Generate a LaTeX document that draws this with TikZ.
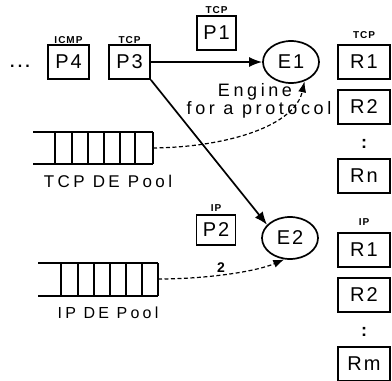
\documentclass[tikz,border=0pt]{standalone}
\usepackage{fontspec}
\setmainfont{Liberation Sans}
\newfontfamily\lblf{Liberation Sans}[LetterSpace=20]
\newfontfamily\boxf{Liberation Sans}[LetterSpace=10]
\newfontfamily\tagf{Liberation Sans}[LetterSpace=10]
\usetikzlibrary{arrows.meta,shapes.geometric}
\tikzset{
  pbox/.style={draw, line width=1.7pt, minimum width=41pt, minimum height=34pt, inner sep=0pt,
    font=\boxf\fontsize{20}{20}\selectfont},
  rbox/.style={draw, line width=1.7pt, minimum width=52pt, minimum height=34pt, inner sep=0pt,
    font=\boxf\fontsize{20}{20}\selectfont},
  eng/.style={ellipse, draw, line width=1.7pt, minimum width=56pt, minimum height=42pt, inner sep=0pt,
    font=\boxf\fontsize{20}{20}\selectfont},
  tagl/.style={inner sep=0pt, font=\tagf\bfseries\fontsize{10}{10}\selectfont},
  txt/.style={inner sep=0pt, font=\lblf\fontsize{18}{18}\selectfont},
  poolline/.style={line width=1.9pt},
  solidarrow/.style={line width=1.7pt, -{Latex[length=13pt,width=10pt]}},
  dasharrow/.style={line width=1.2pt, dash pattern=on 4pt off 2.5pt, -{Latex[length=11pt,width=8pt]}},
}
\begin{document}
\begin{tikzpicture}[x=1pt,y=-1pt]
\useasboundingbox (0,0) rectangle (392,381);

% left packets
\node[inner sep=0pt, font=\lblf\bfseries\fontsize{16}{16}\selectfont] (dots) at (20,66) {...};
\node[pbox] (P4) at (68.5,62) {P4};
\node[tagl] (tP4) at (68.5,40) {ICMP};
\node[pbox] (P3) at (129.5,62) {P3};
\node[tagl] (tP3) at (129.5,40) {TCP};
\node[pbox, minimum width=39pt] (P1) at (216.5,33) {P1};
\node[tagl] (tP1) at (216.5,10) {TCP};
\node[pbox, minimum width=39pt, minimum height=30pt] (P2) at (216,230) {P2};
\node[tagl] (tP2) at (216,208) {IP};

% engines
\node[eng] (E1) at (291,62) {E1};
\node[eng] (E2) at (290,238) {E2};

% TCP results
\node[tagl] (tR) at (364,35) {TCP};
\node[rbox] (R1a) at (364,62) {R1};
\node[rbox] (R2a) at (364,107) {R2};
\node[txt, font=\lblf\bfseries\fontsize{18}{18}\selectfont] (ca) at (364,144) {:};
\node[rbox] (Rna) at (364,176) {Rn};

% IP results
\node[tagl] (tRb) at (364,222) {IP};
\node[rbox] (R1b) at (364,250) {R1};
\node[rbox] (R2b) at (364,295) {R2};
\node[txt, font=\lblf\bfseries\fontsize{18}{18}\selectfont] (cb) at (364,332) {:};
\node[rbox] (Rmb) at (364,364) {Rm};

% TCP DE pool
\draw[poolline] (33,132) -- (153,132) (33,164) -- (153,164);
\foreach \xx in {55,72,88,104,120,135,153} \draw[poolline] (\xx,132) -- (\xx,164);
\coordinate (tcpend) at (153,148);
\node[txt, font=\lblf\fontsize{17}{17}\selectfont] (tcplbl) at (108,181) {TCP DE Pool};

% IP DE pool
\draw[poolline] (38,263) -- (158,263) (38,296) -- (158,296);
\foreach \xx in {61,78,94,110,126,142,158} \draw[poolline] (\xx,263) -- (\xx,296);
\coordinate (ipend) at (158,279);
\node[txt, font=\lblf\fontsize{16}{16}\selectfont] (iplbl) at (108,313) {IP DE Pool};

% engine label
\node[txt] (englbl) at (255,92) {Engine};
\node[txt] (protlbl) at (259,110) {for a protocol};

% connectors
\draw[solidarrow] (P3.east) -- (E1.west);
\draw[solidarrow] (P3.south east) -- (E2.150);
\draw[dasharrow] (tcpend) .. controls (230,147) and (295,125) .. (E1.-55);
\draw[dasharrow] (ipend) .. controls (205,279) and (255,272) .. (E2.-105);
\node[inner sep=1pt, font=\bfseries\fontsize{14}{14}\selectfont] (two) at (221,268) {2};
\end{tikzpicture}
\end{document}
